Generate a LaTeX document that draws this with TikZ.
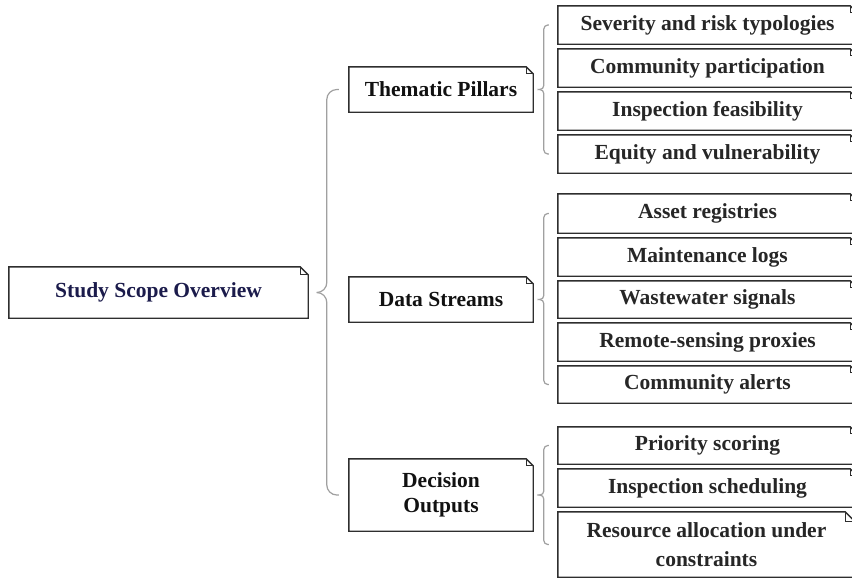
\documentclass[tikz,border=0pt]{standalone}
\usepackage{fontspec}
\setmainfont{Liberation Serif}
\usetikzlibrary{calc}
\definecolor{outline}{HTML}{2E2E2E}
\definecolor{bracegray}{HTML}{A0A0A0}
\definecolor{rootink}{HTML}{1B1B4B}
\definecolor{midink}{HTML}{111111}
\definecolor{leafink}{HTML}{262626}
\tikzset{
  box/.style={draw=none, inner sep=0pt, align=center,
    font=\fontsize{21.5}{25}\selectfont\bfseries},
  rootbox/.style={box, text=rootink},
  midbox/.style={box, text=midink, minimum width=184pt},
  leafbox/.style={box, text=leafink, minimum width=299pt},
  outl/.style={draw=outline, line width=1.4pt, line join=miter},
  brc/.style={draw=bracegray, line width=1.2pt},
}
\begin{document}
\begin{tikzpicture}[x=1pt, y=-1pt]
\useasboundingbox (0,0) rectangle (852,579);
\clip (0,0) rectangle (852,579);
\fill[white] (0,0) rectangle (852,579);

% root
\node[rootbox, minimum width=299pt, minimum height=51pt] (root) at (158.5,292.5) {Study Scope Overview};

% second level
\node[midbox, minimum height=45pt] (tp) at (441,89.5) {Thematic Pillars};
\node[midbox, minimum height=45pt] (ds) at (441,299.5) {Data Streams};
\node[midbox, minimum height=72pt] (do) at (441,495) {Decision\\Outputs};

% thematic pillars
\node[leafbox, minimum height=38pt] (t1) at (707.5,25) {Severity and risk typologies};
\node[leafbox, minimum height=38pt] (t2) at (707.5,68) {Community participation};
\node[leafbox, minimum height=38pt] (t3) at (707.5,111) {Inspection feasibility};
\node[leafbox, minimum height=38pt] (t4) at (707.5,154) {Equity and vulnerability};

% data streams
\node[leafbox, minimum height=39pt] (d1) at (707.5,213.5) {Asset registries};
\node[leafbox, minimum height=38pt] (d2) at (707.5,257) {Maintenance logs};
\node[leafbox, minimum height=37pt] (d3) at (707.5,299.5) {Wastewater signals};
\node[leafbox, minimum height=38pt] (d4) at (707.5,342) {Remote-sensing proxies};
\node[leafbox, minimum height=37pt] (d5) at (707.5,384.5) {Community alerts};

% decision outputs
\node[leafbox, minimum height=37pt] (o1) at (707.5,445.5) {Priority scoring};
\node[leafbox, minimum height=38pt] (o2) at (707.5,488) {Inspection scheduling};
\node[leafbox, minimum width=297pt, minimum height=65pt,
      font=\fontsize{21.5}{29}\selectfont\bfseries] (o3) at (706.5,544.5) {Resource allocation under\\constraints};

% note outlines with a folded corner
\foreach \n/\d in {root/8, tp/7, ds/7, do/7, t1/7, t2/7, t3/7, t4/7,
                   d1/7, d2/7, d3/7, d4/7, d5/7, o1/7, o2/7, o3/10} {
  \draw[outl] (\n.north west) -- ([xshift=-\d]\n.north east)
    -- ([yshift=-\d]\n.north east) -- (\n.south east) -- (\n.south west) -- cycle;
  \draw[outl, line width=1.1pt] ([xshift=-\d]\n.north east) |- ([yshift=-\d]\n.north east);
}

% root bracket
\coordinate (rtip) at ($(root.east)+(9,0)$);
\coordinate (rtop) at ($(tp.west)+(-10,0)$);
\coordinate (rbot) at ($(do.west)+(-10,0)$);
\coordinate (rvt) at ($(tp.west)+(-22,0)$);
\coordinate (rvb) at ($(do.west)+(-22,0)$);
\draw[brc, rounded corners=10] (rtop) -- (rvt) -- (rvt |- rtip) -- (rtip);
\draw[brc, rounded corners=10] (rbot) -- (rvb) -- (rvb |- rtip) -- (rtip);

% group brackets
\foreach \p/\a/\b in {tp/t1/t4, ds/d1/d5, do/o1/o3} {
  \coordinate (tipg) at ($(\p.east)+(7,0)$);
  \coordinate (endA) at ($(\a.west)+(-9,0)$);
  \coordinate (endB) at ($(\b.west)+(-9,0)$);
  \coordinate (vA) at ($(\a.west)+(-14,0)$);
  \coordinate (vB) at ($(\b.west)+(-14,0)$);
  \draw[brc, rounded corners=4] (endA) -- (vA) -- (vA |- tipg) -- (tipg);
  \draw[brc, rounded corners=4] (endB) -- (vB) -- (vB |- tipg) -- (tipg);
}
\end{tikzpicture}
\end{document}
